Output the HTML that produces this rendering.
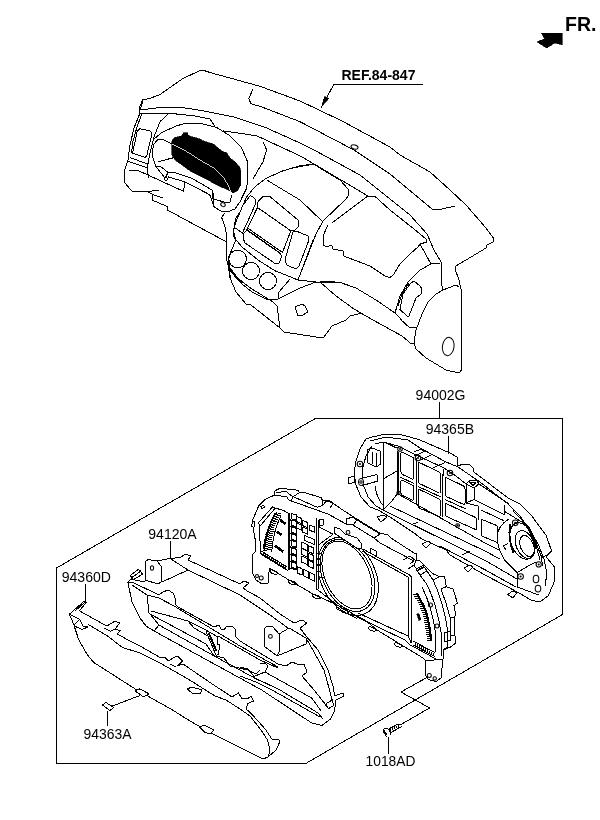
<!DOCTYPE html>
<html>
<head>
<meta charset="utf-8">
<title>Instrument cluster parts diagram</title>
<style>
html,body{margin:0;padding:0;background:#fff;}
body{width:600px;height:820px;overflow:hidden;font-family:"Liberation Sans",sans-serif;}
svg{display:block;}
.l{fill:none;stroke:#000;stroke-width:1;stroke-linejoin:round;stroke-linecap:round;}
.s{shape-rendering:geometricPrecision;stroke-width:1.05;}
.t{font-family:"Liberation Sans",sans-serif;font-size:14.6px;fill:#000;}
.tb{font-family:"Liberation Sans",sans-serif;font-weight:bold;fill:#000;}
.k{fill:#000;stroke:#000;stroke-width:0.6;}
.w{fill:#fff;stroke:#000;stroke-width:1;stroke-linejoin:round;}
</style>
</head>
<body>
<svg width="600" height="820" viewBox="0 0 600 820" shape-rendering="crispEdges">
<defs><filter id="gs" x="0" y="0" width="100%" height="100%" filterUnits="userSpaceOnUse" color-interpolation-filters="sRGB"><feColorMatrix type="saturate" values="0"/></filter></defs>
<rect x="0" y="0" width="600" height="820" fill="#fff"/>

<!-- ===== LABELS ===== -->
<g id="labels" filter="url(#gs)">
<text class="tb" x="565" y="31" font-size="19.5">FR.</text>
<path class="k" d="M541.3,33 L562,33 L562,44.7 L555,43 L546.7,48 L537,42 L544.7,38.7 Z"/>
<text class="tb" x="341.5" y="80" font-size="14">REF.84-847</text>
<path class="l" d="M423,84.5 L333.8,84.5 L321.5,107"/>
<path class="k" d="M321.5,107 L324.3,96.5 L329,98.2 Z"/>
<text class="t" x="415.6" y="400" textLength="49.8" lengthAdjust="spacingAndGlyphs">94002G</text>
<text class="t" x="425.7" y="434.3" textLength="48.4" lengthAdjust="spacingAndGlyphs">94365B</text>
<text class="t" x="148.3" y="539.3" textLength="48.4" lengthAdjust="spacingAndGlyphs">94120A</text>
<text class="t" x="61.7" y="581.7" textLength="49.3" lengthAdjust="spacingAndGlyphs">94360D</text>
<text class="t" x="83.5" y="738.5" textLength="48" lengthAdjust="spacingAndGlyphs">94363A</text>
<text class="t" x="365.6" y="766.4" textLength="49.8" lengthAdjust="spacingAndGlyphs">1018AD</text>
<path class="l" d="M439.3,402 V418.3"/>
<path class="l" d="M448.5,436.7 V453.3"/>
<path class="l" d="M170.6,541.7 V558"/>
<path class="l" d="M85.7,584 V601.7"/>
<path class="l" d="M107,711 V726"/>
<path class="l" d="M388.4,737 V753.6"/>
</g>

<!-- ===== FRAME ===== -->
<g id="frame">
<path class="l" d="M305.8,763.5 L56.5,763.5 L56.5,568 L315.3,418.5 L562.5,418.5 L562.5,614.5 Z"/>
<path class="l" d="M426,678 L401,692 L429.6,708 L400,725"/>
</g>

<g id="screw">
<path class="l" d="M388,728.2 L384.8,728.2 L383.4,730 L383.4,732.6 L385.2,734.4 L386.6,737"/>
<path d="M384,730.5 L386.5,735.5 M383.6,733.4 L387.4,733.4" stroke="#000" stroke-width="1.5" fill="none"/>
<path class="l" d="M388.5,729.2 L397,724.6 L401.5,724.6"/>
<path class="l" d="M390.6,732.8 L401.6,726.6"/>
<path class="l" d="M390.4,727.6 L390.4,735"/>
<path d="M389.2,728.6 L390.8,733" stroke="#000" stroke-width="1.6" fill="none"/>
<path class="l" d="M392,727.8 L393.4,731.4 M394,726.8 L395.4,730.2 M396,725.6 L397.4,729 M398,725 L399.2,728"/>
</g>
<!-- ===== DASHBOARD ===== -->
<g id="dash">
<!-- outer silhouette top + right end cap -->
<path class="l" d="M140,110 L143.3,99.3 L148.8,98.8 L160,94.5 L182.5,78.8 L200,70.5 L204,70.5 L210,72.5 L260,86.3 L300,101 L342,121 L390,147 L400,155 L430,172 L450,190 L466,205 L486,228 L494,239 L493,242 L487,245 L486,248 L456,266 L455,269 L459,280 L461,289 L461.6,370 L459,373 L446,370 L426,358 L416,349 L414,342 L416,330 L422,314 L428,302 L436,294 L443,290 L456,285 L459,287"/>
<ellipse class="l" cx="448.2" cy="346.5" rx="5.8" ry="9.2" transform="rotate(8 448.2 346.5)"/>
<!-- front edge upper -->
<path class="l" d="M140,110 L160,107.5 L185,108 L200,110.3 L233,116.7 L266.7,128 L300,143 L314,150 L360,175 L390,199 L410,215 L427,234 L434,250 L441,262 L441,282 L443,290"/>
<!-- defroster slot -->
<path class="l" d="M252.5,90 L248.8,98.8 L251,103.8 L260,106.3 L300,121.7 L354,150 L390,174 L432,209 L442,209 L455,206"/>
<ellipse class="l s" cx="354.5" cy="147" rx="3.6" ry="2" transform="rotate(15 354.5 147)"/>
<!-- second edge -->
<path class="l" d="M140,113.3 L170,113.3 L195,116 L210,119 L215,126.5"/>
<path class="l" d="M223,130.8 L256.7,135.8 L300,155.8 L314,164 L368,196 L375,196.4 L390,210 L414,229 L426,239 L427,242 L420,244"/>
<path class="l" d="M290,168.4 L314,164"/>
<!-- hood arcs -->
<path class="l" d="M168,114 L160,121.7 L154,136.7 L150,153 L147.5,166.7 L147.5,173 L149,177.5"/>
<path class="l" d="M153,140 L161.7,132.5 L176.7,125.8 L186.7,123 L203,124 L216.7,127.5 L230,135.8 L241.7,148 L247.5,161.7 L248,175 L246.7,188 L240,201.7 L235,209 L228,211.7 L220.5,211 L214,206.6 L209.7,194.7 L184.7,181.7 L168.5,177 L166.8,180.6 L164,179.5"/>
<path class="l" d="M154,144 L157.5,140 L161.7,139 L171.7,144"/>
<path class="l" d="M154,144 L152.5,150 L153,158 L156,166.7 L165,178"/>
<path class="l" d="M158,161.7 L172.5,158"/>
<path class="l" d="M156,166.7 L160,166 L168,172.5 L166,178"/>
<path class="l" d="M164,179.5 L167.4,173 L172.8,172 L192,178.4 L212,190 L213,199"/>
<path class="l" d="M213,193 L213,205 L216.7,209"/>
<path class="l" d="M214,199 L227,203 L230,202 L231.5,196"/>
<ellipse class="l s" cx="223" cy="204.6" rx="2.4" ry="1.8" transform="rotate(35 223 204.6)"/>
<!-- black screen -->
<path class="k" d="M171.7,140.8 L175,137.5 L181.7,135.8 L183,132.5 L187.5,132.5 L189,135.8 L200,139 L203,140.8 L208,142.5 L213,143.7 L221.7,150.8 L226.7,153 L230,158 L235,161.7 L240,167.5 L241,171.7 L240.8,185 L237.5,190.8 L233,193 L230,190.8 L216.7,185 L208,180 L200,175.8 L190,170.8 L183,165.8 L175,160 L171.7,155 Z"/>
<path d="M171.7,144 L185,150.5 L200,160 L213,167.5 L223,176.7 L229,186.7 L230.8,193" fill="none" stroke="#fff" stroke-width="0.8"/>
<!-- left end cap -->
<path class="l" d="M142.5,100 L139,109 L140,113 L134,128 L130,145 L128,160 L124,172 L125,183 L131.7,191 L148,191.7 L158.8,190"/>
<path class="l" d="M141.7,114 L136.7,128 L132.5,143 L131.7,153"/>
<path class="l" d="M140,128.7 L150,131 L152,133.5 L146.7,156 L145,157.3 L132.5,153.3 L137.3,131 Z"/>
<path class="l" d="M130,157.5 L147.5,164"/>
<path class="l" d="M128.5,161.5 L146.7,167.5"/>
<path class="l" d="M129.5,171 L137,170 L183.7,191.4 L184.7,181.7"/>
<path class="l" d="M149,192.5 L153,194.7 L152,200 L167.4,206.6 L167.4,210 L224.8,241 L227,242.5"/>
<path class="l" d="M153,194.7 L163,198"/>
<!-- column below hood -->
<path class="l" d="M224.8,213 L221.6,217.4 L225,226.7 L226.7,235 L226.7,260 L229,268 L230.8,280"/>
<path class="l" d="M240,212 L235.7,218.5 L233.5,231.5 L235.8,240 L231.7,250 L228,258 L230,268 L242,284"/>
<!-- center stack -->
<path class="l" d="M250,195.8 L243,205 L236.7,220 L234,228 L233,236 L241.7,246.7 L258,260 L275,270.8 L290,276.7 L298,280 L316,282 L340,283"/>
<path class="l" d="M250,195.8 L253,196.7 L255.8,200 L255,205 L242.5,233 L236,228.5"/>
<path class="l" d="M258,201.7 L263,196.7 L270,196.7 L298,220 L298.5,226.7 L295,230 L290.8,230.8 L257.5,207.5 Z"/>
<path class="l" d="M257.5,207.5 L290.8,230.8 L282.5,252.5 L247.5,228 Z"/>
<path class="l" d="M246.5,230 L281,254"/>
<path class="l" d="M244,233 L247.5,230 L280,253 L281.7,256.7 L279,263 L275.8,264 L245,243 L243,238 Z"/>
<path class="l" d="M293,231.7 L285,260 L286.7,265 L296,269 L299,266 L309,240 L308,236 L296,231 Z"/>
<path class="l" d="M313,240 L298,280"/>
<path class="l" d="M302,270 L316,234 L323,221"/>
<circle class="l" cx="237.6" cy="259" r="8.8"/>
<circle class="l" cx="251" cy="271" r="8.5"/>
<circle class="l" cx="268" cy="281" r="8.5"/>
<!-- stack top lines -->
<path class="l" d="M300,165.8 L283,170.8 L266.7,178 L255,186.7 L246.7,196.7 L243,205"/>
<path class="l" d="M266.7,180 L300,200 L322,221"/>
<path class="l" d="M263,141.7 L266.7,150 L263,161.7 L253,179"/>
<path class="l" d="M300,165.8 L314,164 L323,170 L340,180 L348,189 L349,195 L345,200 L323,221 L316,234"/>
<!-- glove box -->
<path class="l" d="M332,223 L368,196"/>
<path class="l" d="M328,225 L323,236 L323,245 L326,246.4 L332,245.6 L333,249 L343,251 L343.6,256 L370,266 L385,276 L390,277.6 L394,274 L400,264 L410,254 L418,247 L420,244 L426,242"/>
<path class="l" d="M420,244 L431,264 L440,263.6"/>
<path class="l" d="M431,264 L420,270 L408,282 L400,296 L395,313 L402,320"/>
<path class="l" d="M414,281 L420,286 L422,289 L421,294 L416,298 L409,316 L407,316 L400,309.6 L403,294 L410,284 Z"/>
<path class="l" d="M398,306 L402,294 L409,283"/>
<!-- lower panel -->
<path class="l" d="M320,282 L330,281.6 L340,282.4 L356,288 L376,300 L395,313"/>
<path class="l" d="M320,282 L336,296 L354,309 L373,320 L402,336 L411,343.6 L414,344"/>
<path class="l" d="M400,319 L410,328 L416,327.6"/>
<path class="l" d="M228,262 L231,272 L242,284 L252,292 L268,300 L278,299 L279,292 L290,279"/>
<path class="l" d="M278,299 L300,288 L316,282"/>
<path class="l" d="M228,264 L230,278 L236,292 L246,304 L251,305 L280,328 L284,332 L320,337.6 L324,337 L332,326 L346,320 L350,316 L362,313"/>
<path class="l" d="M230,270 L240,280 L252,289 L273,302 L277,306 L280,328"/>
<path class="l" d="M295,307 L302,304 L305,306 L308,312 L301,316 L298,315.6 Z"/>
</g>

<!-- ===== COVER 94360D ===== -->
<g id="cover">
<!-- outer contour -->
<path class="l" d="M69.3,614.3 L75.2,609 L83.3,602 L85.1,601.4 L86.2,602.6 L79.3,610.8 L106.7,626 L114.8,621.3 L119.5,623 L114.8,629.4 L120.7,630.6 L117.2,634 L130,641 L140,646 L161,658 L165,657 L168,661 L176,656.4 L178.5,657 L182.4,661 L178,665.5 L183,664 L210,682.5 L232,697 L238.5,693 L241.5,698 L247,699 L251.3,696 L253.5,701 L248,703.5 L246,708.8 L252.5,715 L265,728.8 L272.5,740 L278.8,739 L279.5,742.5 L276,750 L267.5,757.5 L262.5,758.8 L252.5,753.8 L215,735 L190,721 L172.5,710 L135,688.8 L93.8,662.5 L87.5,655 L78.8,640 L74,625.3 L71.7,619.5 Z"/>
<!-- inner edge -->
<path class="l" d="M69.3,614.3 L79.8,619.5 M88,624.2 L107.5,636 L122.5,647.5 L140,653 L160,663 L188,679 L215,696 L226,700 L240,709 L250,716 L261,730 L267.5,740 L270,750 L268.5,756"/>
<path class="l" d="M74,624.8 L79.8,619.5 L83.3,626.5 L88,627 L82.2,629.4 L75.2,626.5"/>
<path class="l" d="M104.3,628.3 L110.2,631.2 L114.8,629.4"/>
<path class="l" d="M75.2,611 L80.5,606 L84.5,602.5"/>
<path class="l" d="M170,664 L176,667"/>
<!-- clips -->
<path class="w" d="M135,691 L140,688.8 L148.8,693.8 L143.8,697 Z"/>
<path class="w" d="M102.5,705 L106,702.5 L113.8,707.5 L110,710.5 Z"/>
<path class="l" d="M112.5,706 L140,695.5"/>
<path class="w" d="M187,689 L192,687 L202,690 L200,693.5 L193,693.5 Z"/>
<path class="w" d="M200,727.5 L203.8,725 L213.8,730 L210,733.8 L205,732.5 Z"/>
</g>

<!-- ===== BEZEL 94120A ===== -->
<g id="bezel">
<!-- left mounting block -->
<path class="w" d="M145,580 L145,562 L148,559.6 L157,561 L161,566 L161,582 L158,584 Z"/>
<ellipse class="l s" cx="152" cy="568" rx="1.6" ry="2.2"/>
<path class="l" d="M157,561 L170,558.4 L188,570 L162,582"/>
<!-- first rim, right end, bottom -->
<path class="l" d="M170,558.4 L180,557.6 L185,554.4 L191,555.6 L188,560 L240,584 L244,581 L249,583 L243,588 L247,590.8 L260,598 L280,614 L294,623 L302,620 L307,623 L300,628 L306,636 L318,650 L328,670 L333,686 L334.6,696 L343,693 L344,696 L335.6,700.4 L334.6,710.8 L330.4,719 L322,725.4 L311.7,723 L261.7,690 L154,631"/>
<!-- second rim -->
<path class="l" d="M188,570 L240,595 L270,615 L288,628"/>
<!-- left corner -->
<path class="l" d="M127.3,583 L130.3,579.6 L133.2,579.6 L145,582"/>
<path class="l" d="M130.3,575.5 L137.8,569.7 L140.2,570.3 L142.5,574.3 L133.2,579.6 Z"/>
<path class="l" d="M132,577.5 L139.5,572"/>
<path d="M131,578.5 L133.5,580" stroke="#000" stroke-width="1.8" fill="none"/>
<path class="l" d="M128,583 L132,602 L140,618 L146,626 L154,631 L159,625"/>
<!-- front face top -->
<path class="l" d="M128,583 L132,582 L159,595 L163,592 L168,590 L173,593 L176,600 L175,604 L178,607 L214,627 L219,625 L221,629 L224,630 L227,626 L232,626 L236,630 L235,636 L240,641 L278,664 L286,666 L292,662 L297,664 L304,664 L307,672 L304,674.5 L302,676 L314,690 L322,700 L328,708"/>
<path class="l" d="M132,585 L147,595 L159,598 L174,606 L240,646 L278,667"/>
<!-- opening -->
<path class="l" d="M147,595 L149,613 L150,614 L159,625"/>
<path class="l" d="M151,611 L188,621 L208,631"/>
<path class="l" d="M150,614 L206,644 L215,657"/>
<path class="l" d="M159,625 L216,657 L260,681"/>
<path class="l" d="M188,621 L194,628 L208,636 L214,650"/>
<path class="l" d="M206,631.3 L216,655.3 L218,654.7 L220,644.7 L217.3,644.7 L217.3,636.7 L208,631.3 Z"/>
<path d="M208.7,633 L216.5,651" stroke="#000" stroke-width="2" fill="none"/>
<path class="l" d="M216,656 L224,658 L230,666 L248,670 L256,674 L260,670"/>
<path class="l" d="M218,636 L260,660 L278,668"/>
<path class="l" d="M240,667 L248,669 L253,675 L255,678 L280,690 L318,713 L323,719"/>
<path class="l" d="M240,676 L256,682 L272,690 L320,717"/>
<path class="l" d="M260,664 L265,663 L268,666 L265,672 L255,676"/>
<path class="l" d="M265,672 L311.7,698 L321,710.8"/>
<!-- right mounting block -->
<path class="w" d="M264,646 L264,629 L267,626.4 L273,627 L279,634 L280,650 L277,656 Z"/>
<circle class="l s" cx="270.4" cy="636.4" r="1.9"/>
<path class="l" d="M279,634 L289,628 L306,638 L306,644 L277,656"/>
<!-- right inner rim -->
<path class="l" d="M306,638 L314,652 L324,670 L329,688 L332.5,702.5"/>
<path class="l" d="M322,666 L323,668.5"/>
<path class="w" d="M326,703.5 L332.5,700 L333.5,705.6 L328.3,708.8 Z"/>
</g>

<!-- ===== CLUSTER ===== -->
<g id="cluster">
<path class="w" d="M252.5,573 L252.5,555 L255,551.7 L255.8,543 L253,527 L251.7,526.7 L252.5,520 L254.7,515.3 L258.7,506 L265.3,499.3 L274,495.3 L274,492 L277.3,489.3 L282.7,488 L288,489.3 L293.3,489.3 L298.7,490.7 L299.3,492.7 L302.7,492 L321,497.6 L322.5,500.5 L324,500.5 L330,501 L334,504 L345,511.5 L360,521 L380,533 L388,535 L391,538 L414,553 L417,554 L416,560 L420,561 L432.7,573.7 L439.5,576.5 L444.6,576.5 L446.3,586.7 L453,589 L457.4,603 L454,605.5 L455.7,615 L454,618 L455,635.4 L455.7,643 L450.6,647 L443,650 L443,659 L441,678 L436,681.5 L428.4,679.7 L425.9,676 L425.9,661 L423,658 L400,644 L377,630 L365,620 L357,616 L335,604 L313,594 L289,580 L269,568 L269,572 L268,583 L262,584 L256,580 L253,574 Z"/>
<circle class="l s" cx="257" cy="576" r="1.5"/><circle class="l s" cx="261.2" cy="578" r="2"/>
<circle class="l s" cx="429.3" cy="675.5" r="2"/><circle class="l s" cx="434.7" cy="678.4" r="1.7"/>
<path class="l" d="M274.7,495.3 L286.7,496.7 L288,499.3 L290.7,500.7 L293.3,496.7 L299.3,492.7"/>
<path class="l" d="M276,492.5 L286.5,491.5 L289.5,494.5 L293.3,496.7"/>
<path class="l" d="M293.3,496.7 L317.3,507.3 L322.7,505.3 L322.5,500.5"/>
<path class="l" d="M322.7,505.3 L326.7,500.8 L333.3,503.3 L330,508"/>
<path class="l" d="M290.7,500.7 L328,514 L346,524 L346,519 L353,517 L357,520 L353,525 L374,538 L380,534"/>
<path class="l" d="M346,524 L353,525"/>
<path class="l" d="M357,520 L380,534"/>
<path class="l" d="M374,538 L380,543 L414,561 L410,564"/>
<path class="l" d="M260.7,506.7 L263.3,505.3 L264.7,507.3 L262,508.7 Z"/>
<path class="l" d="M252.5,521 L254.5,522 L255,527"/>
<path class="l" d="M259,525 L260.8,553.3 L285,568.3 L287.5,570.8"/>
<path class="l" d="M258,523.3 L272.7,506.7 L275.3,508 L260.7,525.3 Z"/>
<path class="l" d="M275.3,508 L284,510.7 L289,513.5"/>
<path class="l" d="M276.7,512.5 Q266,528 263.3,548.3"/>
<path class="l" d="M280.8,515.8 Q273,532 271.7,551.7"/>
<path d="M275.5,514.5 L281.1,513.5 M274.1,516.5 L280.2,515.5 M272.6,518.5 L279.2,517.5 M271.2,520.5 L278.1,519.5 M270.0,522.5 L277.0,521.5 M269.2,524.5 L276.0,523.5 M268.5,526.5 L274.9,525.5 M267.7,528.5 L274.4,527.5 M267.0,530.5 L274.0,529.5 M266.2,532.5 L273.6,531.5 M265.5,534.5 L273.1,533.5 M265.1,536.5 L272.7,535.5 M264.9,538.5 L272.3,537.5 M264.6,540.5 L272.2,539.5 M264.3,542.5 L272.0,541.5 M264.1,544.5 L271.9,543.5 M263.8,546.5 L271.8,545.5 M263.6,548.5 L271.7,547.5 M263.5,550.5 L271.6,549.5" stroke="#000" stroke-width="1" fill="none"/>
<path d="M275.5,513.5 Q266.5,528 264.2,549.5" stroke="#000" stroke-width="1.8" fill="none"/>
<path d="M280,520 L285.8,524" stroke="#000" stroke-width="2.6" fill="none"/>
<path d="M276.7,531.7 L281.7,535" stroke="#000" stroke-width="2.6" fill="none"/>
<path d="M275,545.8 L283.3,551.7" stroke="#000" stroke-width="2.6" fill="none"/>
<path d="M263.5,552.2 V555.0 M265.5,553.4 V556.2 M267.5,554.7 V557.5 M269.5,555.9 V558.7 M271.5,557.1 V559.9 M273.5,558.4 V561.2 M275.5,559.6 V562.4 M277.5,560.8 V563.6 M279.5,562.1 V564.9 M281.5,563.3 V566.1 M283.5,564.5 V567.3 M285.5,565.8 V568.6" stroke="#000" stroke-width="1" fill="none"/>
<path class="l" d="M261.5,554.5 L287,570.2"/>
<path class="l" d="M260.8,550.8 L286.7,566.7"/>
<path d="M289,513.3 L289,570" stroke="#000" stroke-width="1.4" fill="none"/>
<path d="M316.5,518 L316.5,588" stroke="#000" stroke-width="1.8" fill="none"/>
<path class="l" d="M318.5,520 L318.5,589"/>
<path class="l" d="M291.5,513.5 l5,1.3 l0,5.4 l-5,-1.3 Z"/>
<path d="M289.5,519.7 l7,1.6" stroke="#000" stroke-width="1.2" fill="none"/>
<path class="l" d="M291.5,520 l5,1.3 l0,5.4 l-5,-1.3 Z"/>
<path d="M289.5,526.2 l7,1.6" stroke="#000" stroke-width="1.2" fill="none"/>
<path class="l" d="M291.5,527 l5,1.3 l0,5.4 l-5,-1.3 Z"/>
<path d="M289.5,533.2 l7,1.6" stroke="#000" stroke-width="1.2" fill="none"/>
<path class="l" d="M291.5,534 l5,1.3 l0,5.4 l-5,-1.3 Z"/>
<path d="M289.5,540.2 l7,1.6" stroke="#000" stroke-width="1.2" fill="none"/>
<path class="l" d="M291.5,540.5 l5,1.3 l0,5.4 l-5,-1.3 Z"/>
<path d="M289.5,546.7 l7,1.6" stroke="#000" stroke-width="1.2" fill="none"/>
<path class="l" d="M291.5,548 l5,1.3 l0,5.4 l-5,-1.3 Z"/>
<path d="M289.5,554.2 l7,1.6" stroke="#000" stroke-width="1.2" fill="none"/>
<path class="l" d="M291.5,555 l5,1.3 l0,5.4 l-5,-1.3 Z"/>
<path d="M289.5,561.2 l7,1.6" stroke="#000" stroke-width="1.2" fill="none"/>
<path class="l" d="M291.5,562 l5,1.3 l0,5.4 l-5,-1.3 Z"/>
<path d="M289.5,568.2 l7,1.6" stroke="#000" stroke-width="1.2" fill="none"/>
<path class="l" d="M296.8,516.5 l5,2 l0,5.2 l-5,-2 Z"/>
<path class="l" d="M296.8,523 l5,2 l0,5.2 l-5,-2 Z"/>
<path class="l" d="M302.8,520.5 l5,2 l0,5.2 l-5,-2 Z"/>
<path class="l" d="M302.8,527 l5,2 l0,5.2 l-5,-2 Z"/>
<path class="l" d="M309.5,525 l5,2 l0,5.2 l-5,-2 Z"/>
<path class="l" d="M304.5,535.5 l10,4 l0,5 l-10,-4 Z"/>
<path class="l" d="M301.5,542 l5.5,2.4 l0,6 l-5.5,-2.4 Z"/>
<path class="l" d="M301.5,548.5 l5.5,2.4 l0,6 l-5.5,-2.4 Z"/>
<path class="l" d="M301.5,556 l5.5,2.4 l0,6 l-5.5,-2.4 Z"/>
<path class="l" d="M308,545.5 l5.5,2.4 l0,6 l-5.5,-2.4 Z"/>
<path class="l" d="M308,553 l5.5,2.4 l0,6 l-5.5,-2.4 Z"/>
<path class="l" d="M308,560 l5.5,2.4 l0,6 l-5.5,-2.4 Z"/>
<path d="M307.2,545 L307.2,566" stroke="#000" stroke-width="1.4" fill="none"/>
<path class="l" d="M297,566.5 l5,2.2 l0,6.4 l-5,-2.2 Z"/>
<path class="l" d="M303.5,569.5 l5,2.2 l0,6.4 l-5,-2.2 Z"/>
<path class="l" d="M309.8,572.5 l5,2.2 l0,6.4 l-5,-2.2 Z"/>
<rect class="l" x="319.2" y="519.5" width="4" height="5.5"/>
<clipPath id="spc"><path d="M319.2,520 L460,520 L460,640 L319.2,640 Z"/></clipPath>
<g clip-path="url(#spc)">
<ellipse class="l" cx="348" cy="576.5" rx="27.5" ry="41" transform="rotate(-25 348 576.5)"/>
<ellipse class="l" cx="347.5" cy="575.5" rx="24.5" ry="38" transform="rotate(-25 347.5 575.5)"/>
<ellipse class="l" cx="347" cy="575" rx="22" ry="36" transform="rotate(-25 347 575)"/>
</g>
<path class="l" d="M318.5,526.5 L333,534.3 L318.5,545"/>
<path class="l" d="M318.5,578.3 L325,577"/>
<path d="M316.5,553.5 H321" stroke="#000" stroke-width="1.6" fill="none"/>
<path d="M316.5,559 H321" stroke="#000" stroke-width="1.6" fill="none"/>
<path d="M316.5,565 H321" stroke="#000" stroke-width="1.6" fill="none"/>
<path d="M316.5,571.5 H321" stroke="#000" stroke-width="1.6" fill="none"/>
<path class="l" d="M316.5,589 L335.7,603.7 L337,609 L357,618.3"/>
<path class="w" d="M334,527 L340,529 L345,534 L357,538 L361,543 L362,548 L358,549 L334,533 Z"/>
<circle class="l s" cx="348" cy="532.4" r="1.9"/>
<path class="l" d="M370,548 L376,551 L376,556 L370,553 Z"/>
<path class="l" d="M362,551 L408,577 L408,636 L358,613"/>
<path class="l" d="M363,549 L409.5,575 L411.3,577 L411.3,643"/>
<path class="l" d="M408,636 L411.3,643"/>
<path class="l" d="M356,616.5 L405,640 L411,646"/>
<path class="l" d="M403,560 L410,556 L416,561 L414,565 L408,569"/>
<path class="l" d="M416,569 L423,565.5 L427,571 L420,575 Z"/>
<path d="M418,570 L424,567" stroke="#000" stroke-width="1.6" fill="none"/>
<path class="l" d="M414,565 L420,575 L426.7,584"/>
<path class="l" d="M427,571 L433,580 L439.5,576.5"/>
<path class="l" d="M426.7,584 Q437,605 441,632 L441,656"/>
<path class="l" d="M422.4,587.6 Q432,608 435,630 L436,652.4"/>
<path class="l" d="M433,580 Q444,603 447.5,630 L447.5,647"/>
<path d="M413.2,594.5 H417.4 M414.3,596.5 H418.5 M415.4,598.5 H419.6 M416.5,600.5 H420.7 M417.6,602.5 H421.8 M418.7,604.5 H422.9 M419.6,606.5 H423.8 M420.4,608.5 H424.6 M421.2,610.5 H425.4 M422.0,612.5 H426.2 M422.7,614.5 H426.9 M423.1,616.5 H427.3 M423.5,618.5 H427.7 M423.9,620.5 H428.1 M424.3,622.5 H428.5 M424.7,624.5 H428.9 M425.1,626.5 H429.3 M425.4,628.5 H429.6 M425.7,630.5 H429.9 M425.9,632.5 H430.1 M426.2,634.5 H430.4 M426.5,636.5 H430.7 M426.7,638.5 H430.9 M427.0,640.5 H431.2" stroke="#000" stroke-width="1" fill="none"/>
<path d="M416.8,593.3 L423.4,605.5 L426.9,614.3 L429.5,627.5 L431.2,640.6" stroke="#000" stroke-width="2.2" fill="none" stroke-linejoin="round"/>
<path class="k" d="M416.8,614 L419,613.5 L421.2,619.6 L419,620.5 Z"/>
<path d="M415.5,642.9 V645.9 M417.5,644.0 V647.0 M419.5,645.1 V648.1 M421.5,646.1 V649.1 M423.5,647.2 V650.2 M425.5,648.3 V651.3 M427.5,649.4 V652.4 M429.5,650.5 V653.5 M431.5,651.5 V654.5 M433.5,652.6 V655.6" stroke="#000" stroke-width="1" fill="none"/>
<path class="l" d="M414,641.5 L434.8,652.6"/>
<path class="l" d="M413.6,645.2 L434.2,656.2"/>
<path class="l" d="M411.3,645.5 L436,659"/>
<circle class="l s" cx="430.5" cy="605" r="2"/><circle class="l s" cx="437" cy="626" r="2"/>
<path class="l" d="M446.3,586.7 L441,589 L446,603 L450,617 L454,618"/>
<path class="l" d="M450,617 L451,635 L455,635.4"/>
<path class="l" d="M444,633 L444,642 L450.6,640 L450.6,631 Z"/>
<path class="l" d="M447.5,647 L443,650"/>
<path class="l" d="M269.5,570.5 L271.5,569.5 L276.0,571.5 L278.0,573.5 L275.5,574.5 L271.0,572.8 Z"/>
<path class="l" d="M288,581.0 L290,580.0 L294.5,582.0 L296.5,584.0 L294,585.0 L289.5,583.3 Z"/>
<path class="l" d="M312,595.0 L314,594.0 L318.5,596.0 L320.5,598.0 L318,599.0 L313.5,597.3 Z"/>
<path class="l" d="M340,609.5 L342,608.5 L346.5,610.5 L348.5,612.5 L346,613.5 L341.5,611.8 Z"/>
<path class="l" d="M368,627.5 L370,626.5 L374.5,628.5 L376.5,630.5 L374,631.5 L369.5,629.8 Z"/>
<path class="l" d="M394,643.5 L396,642.5 L400.5,644.5 L402.5,646.5 L400,647.5 L395.5,645.8 Z"/>
<path class="l" d="M425.9,661 L443,659"/>
</g>

<!-- ===== BACK COVER 94365B ===== -->
<g id="back">
<path class="l" d="M366,439 L372,437 L386,434 L398,434 L410,437 L420,440 L450,453 L457,457 L458,466 L463,464 L469,464 L473,468 L474,472 L508,498 L520,504 L532,516 L537.5,524 L546,535 L551.6,551 L546,556.7 L554.8,567.5 L554.8,580.5 L548.3,595.7 L539.7,602 L531,600 L520,593.5 L507.8,587 L485,575 L450,555 L446,550 L422,539 L414,533 L390,517 L378,510 L370,507 L361,497 L356,485 L354,473 L356,461 L360,449 Z"/>
<path class="l" d="M370,441 L386,437 L408,440 L420,448 L446,462 L458,467 L480,482 L508,504 L520,516 L528,528 L536,545 L540,560"/>
<path class="l" d="M375,444 L383,442 L398,446 L416,455 L444,468 L456,476 L466,484"/>
<path class="l" d="M372,446 L366,456 L362,470 L363,484 L368,497 L376,506 L383,510"/>
<path class="l" d="M375,486 Q377,500 384,506"/>
<path class="l" d="M383,442 L383,510 L392,501 L398,493"/>
<path class="l" d="M397,451 L397,493"/><path class="l" d="M398.5,452 L398.5,492"/>
<path class="l" d="M383,479 L397,471"/>
<path class="l" d="M400.8,453.9 Q400.8,451.7 402.8,452.6 L411.7,456.6 Q413.7,457.5 413.7,459.7 L413.7,477.5 Q413.7,479.7 411.7,478.8 L402.8,474.7 Q400.8,473.8 400.8,471.6 Z"/>
<path class="l" d="M418.3,464.2 Q418.3,462.0 420.3,463.0 L438.5,471.7 Q440.5,472.7 440.5,474.9 L440.5,491.5 Q440.5,493.7 438.5,492.7 L420.3,484.0 Q418.3,483.0 418.3,480.8 Z"/>
<path class="l" d="M445.0,479.2 Q445.0,477.0 447.0,478.0 L463.0,485.7 Q465.0,486.7 465.0,488.9 L465.0,502.8 Q465.0,505.0 463.0,504.1 L447.0,496.9 Q445.0,496.0 445.0,493.8 Z"/>
<path class="l" d="M400.8,481.9 Q400.8,479.7 402.8,480.6 L411.7,484.6 Q413.7,485.5 413.7,487.7 L413.7,498.5 Q413.7,500.7 411.7,499.8 L402.8,495.7 Q400.8,494.8 400.8,492.6 Z"/>
<path class="l" d="M418.3,491.2 Q418.3,489.0 420.3,489.9 L438.5,498.6 Q440.5,499.5 440.5,501.7 L440.5,514.8 Q440.5,517.0 438.5,516.1 L420.3,508.6 Q418.3,507.7 418.3,505.5 Z"/>
<path class="l" d="M445.0,505.2 Q445.0,503.0 447.0,503.9 L474.7,517.1 Q476.7,518.0 476.7,520.2 L476.7,527.8 Q476.7,530.0 474.7,529.1 L447.0,516.7 Q445.0,515.8 445.0,513.6 Z"/>
<path class="l" d="M481.0,521.2 Q481.0,519.0 483.0,519.9 L495.7,525.1 Q497.7,526.0 497.7,528.2 L497.7,540.5 Q497.7,542.7 495.7,541.8 L483.0,536.6 Q481.0,535.7 481.0,533.5 Z"/>
<path class="l" d="M481,510 L503.5,520.5"/>
<path class="l" d="M383.8,442 L396.3,447.8 L399.7,446"/>
<path class="l" d="M413.8,456 L419.7,453.7"/>
<path class="l" d="M421,460 L431,455"/>
<path class="l" d="M433,467.8 L444.7,462.8"/>
<path class="l" d="M443.8,469.5 L443.8,476"/>
<path class="l" d="M416,458 L416,504"/>
<path class="l" d="M442.8,474 L442.8,517"/>
<path class="l" d="M400,477 L414,483.5 M418,486.5 L441,497 M445,499.5 L466,509"/>
<path class="l" d="M398,494 L485,543 L498.4,549.7"/>
<path class="l" d="M383,510 L485,560.4 L517,579"/>
<path class="l" d="M390,506 L485,551 L499.8,559"/>
<path class="l" d="M440,546 L485,569.8 L516,587"/>
<path class="w" d="M377,517 L383,515 L387,517 L381,522 Z"/>
<path class="w" d="M422,544 L428,541 L431,543 L426,548 Z"/>
<path class="w" d="M464,568 L470,565 L473,567 L468,572 Z"/>
<path class="w" d="M507.8,594.6 L511.8,591.3 L517,592.6 L513,598 Z"/>
<path class="l" d="M411,525 L418,522"/><path class="l" d="M462,555 L470,551"/>
<circle class="l s" cx="360" cy="464" r="2.8"/>
<circle cx="360" cy="464" r="1" fill="#000" shape-rendering="geometricPrecision"/>
<circle class="l s" cx="400" cy="449" r="2.3"/>
<circle cx="400" cy="449" r="1" fill="#000" shape-rendering="geometricPrecision"/>
<circle class="l s" cx="418" cy="458" r="2.8"/>
<circle cx="418" cy="458" r="1" fill="#000" shape-rendering="geometricPrecision"/>
<circle class="l s" cx="450" cy="473" r="2.8"/>
<circle cx="450" cy="473" r="1" fill="#000" shape-rendering="geometricPrecision"/>
<circle class="l s" cx="457.6" cy="525.6" r="1.9"/>
<circle cx="457.6" cy="525.6" r="1" fill="#000" shape-rendering="geometricPrecision"/>
<circle class="l s" cx="398.6" cy="493" r="1.8"/>
<circle cx="398.6" cy="493" r="1" fill="#000" shape-rendering="geometricPrecision"/>
<path class="l" d="M414,452 L420,449.5 L425,451 L419,454"/>
<path class="w" d="M348,478 L354,476 L355,482 L349,484 Z"/>
<ellipse class="w s" cx="361" cy="482" rx="2.6" ry="3.6"/>
<circle class="l s" cx="361" cy="482" r="1.2"/>
<path class="l" d="M361,478.4 L377,474.6 L378,481 L362,485.6"/>
<path class="l" d="M367,450 L372,448 L380,451 L381,464 L376,467 L368,463 Z"/>
<path class="l" d="M372,452 L372,464"/><path class="l" d="M376,453 L376,466"/>
<path class="w" d="M466,484 L469.7,480.8 L476.7,480.8 L479,484 L474,487.8 L474,499.5 L466,503 Z"/>
<path class="l" d="M474,487.8 L466,484"/>
<path class="l" d="M479,484 L509,504"/>
<path class="l" d="M474,499.5 L504.7,514.7 L504.7,505"/>
<path class="l" d="M466,503 L478,506 L478,520"/>
<path class="l" d="M470,482.5 L476,482.5 L473,485.5 Z"/>
<path class="l" d="M509,518.8 Q497.5,526 497,537 Q498,550 505,560.4 L517.2,572.5 L517.2,587 L538.7,595"/>
<path class="l" d="M517.2,572.5 L529,565.5 L536,562"/>
<ellipse class="l" cx="522.5" cy="541" rx="11.5" ry="19" transform="rotate(-20 522.5 541)"/>
<path d="M510.3,524 Q507.5,537 513.5,553" fill="none" stroke="#000" stroke-width="1.8"/>
<ellipse class="l" cx="525" cy="544.5" rx="9" ry="14.5" transform="rotate(-22 525 544.5)"/>
<ellipse class="l" cx="527" cy="546" rx="6.5" ry="11" transform="rotate(-22 527 546)"/>
<path class="l" d="M503,546 L508,543.5 M503,546 L505.5,549"/>
<circle class="l s" cx="515.2" cy="522.8" r="2.8"/>
<circle cx="515.2" cy="522.8" r="1" fill="#000" shape-rendering="geometricPrecision"/>
<circle class="l s" cx="520.6" cy="576.5" r="2.8"/>
<circle cx="520.6" cy="576.5" r="1" fill="#000" shape-rendering="geometricPrecision"/>
<circle class="l s" cx="538.7" cy="564.4" r="2.6"/>
<circle cx="538.7" cy="564.4" r="1" fill="#000" shape-rendering="geometricPrecision"/>
<ellipse class="l s" cx="536" cy="579" rx="2.8" ry="3.8"/><ellipse class="l s" cx="538" cy="588.6" rx="2.8" ry="3.4"/>
<path class="l" d="M513,510.7 L529.3,528 L538.7,545.6 L544,559 L546.7,572.5 L545.4,586"/>
<path class="l" d="M504,511 L525,524 L536,543 L541.4,556.4"/>
<path class="l" d="M545.4,555.7 L541,558 L543,566"/>
</g>

</svg>
</body>
</html>
